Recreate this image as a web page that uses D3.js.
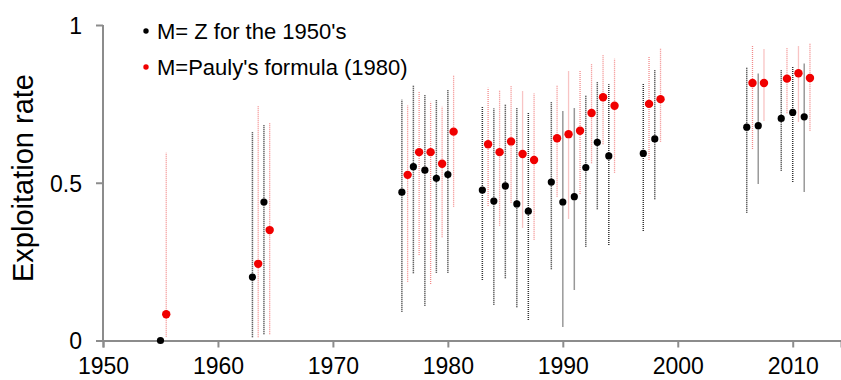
<!DOCTYPE html>
<html lang="en">
<head>
  <meta charset="UTF-8" />
  <title>Exploitation rate</title>
  <script src="https://cdn.jsdelivr.net/npm/d3@7"></script>
  <style>
    body { margin: 0; background: #fff; }
    svg { display: block; font-family: 'Liberation Sans', Arial, sans-serif; }
  </style>
</head>
<body>
  <svg id="chart" width="841" height="380"></svg>
  <script>
    // years of the estimates (the red series sits half a year to the right)
    const years = [1955, 1963, 1964, 1976, 1977, 1978, 1979, 1980, 1983, 1984, 1985, 1986, 1987,
                   1989, 1990, 1991, 1992, 1993, 1994, 1997, 1998, 2006, 2007, 2009, 2010, 2011];

    // M = Z for the 1950's
    const zRate = [0, 0.201, 0.439, 0.470, 0.551, 0.540, 0.514, 0.526, 0.477, 0.442, 0.490, 0.433, 0.410,
                   0.502, 0.439, 0.456, 0.548, 0.628, 0.585, 0.593, 0.639, 0.676, 0.681, 0.704, 0.723, 0.709];
    const zLow  = [0, 0.010, 0.020, 0.091, 0.213, 0.110, 0.215, 0.215, 0.192, 0.113, 0.197, 0.105, 0.065,
                   0.226, 0.044, 0.162, 0.297, 0.416, 0.303, 0.347, 0.448, 0.405, 0.498, 0.538, 0.502, 0.472];
    const zHigh = [0, 0.662, 0.683, 0.764, 0.810, 0.778, 0.762, 0.794, 0.743, 0.736, 0.750, 0.738, 0.723,
                   0.757, 0.727, 0.736, 0.778, 0.822, 0.812, 0.815, 0.857, 0.866, 0.847, 0.857, 0.870, 0.879];

    // M = Pauly's formula (1980)
    const pRate = [0.083, 0.243, 0.350, 0.525, 0.597, 0.597, 0.560, 0.662, 0.622, 0.597, 0.631, 0.591, 0.572,
                   0.641, 0.654, 0.665, 0.721, 0.771, 0.744, 0.750, 0.765, 0.816, 0.816, 0.830, 0.847, 0.832];
    const pLow  = [0.012, 0.010, 0.020, 0.186, 0.271, 0.179, 0.327, 0.424, 0.426, 0.364, 0.437, 0.358, 0.319,
                   0.456, 0.387, 0.464, 0.562, 0.622, 0.532, 0.572, 0.630, 0.607, 0.697, 0.720, 0.694, 0.665];
    const pHigh = [0.596, 0.743, 0.690, 0.746, 0.791, 0.757, 0.741, 0.841, 0.801, 0.794, 0.807, 0.791, 0.784,
                   0.808, 0.855, 0.855, 0.879, 0.905, 0.894, 0.902, 0.928, 0.937, 0.923, 0.929, 0.934, 0.942];

    const xTicks = [1950, 1960, 1970, 1980, 1990, 2000, 2010];
    const yTicks = [0, 0.5, 1];
    const yTickLabels = ["0", "0.5", "1"];
    const legendLabels = ["M= Z for the 1950's", "M=Pauly's formula (1980)"];

    const svg = d3.select("#chart");
    const axisColor = "#8c8c8c";

    const x = d3.scaleLinear().domain([1950, 2014.2]).range([103, 841]);
    const y = d3.scaleLinear().domain([0, 1]).range([340.5, 25]);

    const series = [
      { rate: zRate, lo: zLow, hi: zHigh, dx: 0,   dot: "#000", bar: "#333", barW: 1.5, r: 3.6 },
      { rate: pRate, lo: pLow, hi: pHigh, dx: 0.5, dot: "#f00000", bar: "#f28a8a", barW: 1.3, r: 4.2 }
    ];

    // axes
    const xAxis = svg.append("g").attr("transform", `translate(0,${y(0)})`)
      .call(d3.axisBottom(x).tickValues(xTicks).tickFormat(d3.format("d")).tickSize(7).tickPadding(10));
    const yAxis = svg.append("g").attr("transform", `translate(${x(1950)},0)`)
      .call(d3.axisLeft(y).tickValues(yTicks).tickFormat((d, i) => yTickLabels[i]).tickSize(7).tickPadding(14));

    [xAxis, yAxis].forEach(g => {
      g.selectAll("path").attr("stroke", axisColor).attr("stroke-width", 2);
      g.selectAll("line").attr("stroke", axisColor).attr("stroke-width", 2);
      g.selectAll("text").attr("fill", "#000").style("font-size", "23px")
        .style("font-family", "'Liberation Sans', Arial, sans-serif");
    });
    yAxis.selectAll("path").attr("d", `M0,${y(1)}V${y(0)}`);
    yAxis.selectAll("text").attr("dy", "0.36em");

    svg.append("text")
      .attr("transform", "translate(33,178) rotate(-90)")
      .attr("text-anchor", "middle")
      .style("font-size", "29px")
      .text("Exploitation rate");

    // error bars
    series.forEach(s => {
      svg.append("g").selectAll("line").data(years).enter().append("line")
        .filter((d, i) => s.hi[i] > s.lo[i])
        .attr("x1", d => x(d + s.dx))
        .attr("x2", d => x(d + s.dx))
        .attr("y1", d => y(s.lo[years.indexOf(d)]))
        .attr("y2", d => y(s.hi[years.indexOf(d)]))
        .attr("stroke", s.bar)
        .attr("stroke-width", s.barW)
        .attr("stroke-dasharray", "1,1");
    });
    // points
    series.forEach(s => {
      svg.append("g").selectAll("circle").data(years).enter().append("circle")
        .attr("cx", d => x(d + s.dx))
        .attr("cy", (d, i) => y(s.rate[i]))
        .attr("r", s.r)
        .attr("fill", s.dot);
    });

    // legend
    const legend = svg.append("g");
    legendLabels.forEach((label, i) => {
      const ly = 31 + i * 36;
      legend.append("circle").attr("cx", 146).attr("cy", ly).attr("r", 2.7).attr("fill", series[i].dot);
      legend.append("text").attr("x", 157).attr("y", ly).attr("dy", "0.35em")
        .style("font-size", "22px").text(label);
    });
  </script>
</body>
</html>
